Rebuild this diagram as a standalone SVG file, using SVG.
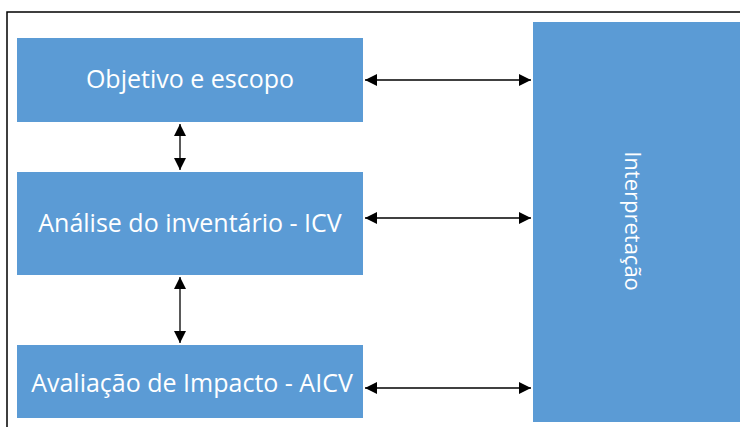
<svg xmlns="http://www.w3.org/2000/svg" width="740" height="427" viewBox="0 0 740 427">
<defs>
<marker id="ah" viewBox="0 0 12 12" refX="12" refY="6" markerWidth="12" markerHeight="12" markerUnits="userSpaceOnUse" orient="auto-start-reverse">
<path d="M0,0 L12,6 L0,12 z" fill="#000"/>
</marker>
<style>
.box{fill:#5B9BD5;}
.lbl{font-family:"Open Sans","Noto Sans",sans-serif;font-size:25px;fill:#fff;text-anchor:middle;dominant-baseline:central;}
.con{stroke:#000;stroke-width:1.3;fill:none;marker-start:url(#ah);marker-end:url(#ah);}
</style>
</defs>
<rect width="740" height="427" fill="#fff"/>
<path d="M7,427 V12 H740" fill="none" stroke="#000" stroke-width="1.5"/>
<g id="objetivo"><rect class="box" x="17" y="38" width="346" height="84"/><text class="lbl" x="190" y="78">Objetivo e escopo</text></g>
<g id="analise"><rect class="box" x="17" y="172" width="346" height="103"/><text class="lbl" x="190" y="222">Análise do inventário - ICV</text></g>
<g id="avaliacao"><rect class="box" x="17" y="345" width="346" height="73"/><text class="lbl" x="192" y="382">Avaliação de Impacto - AICV</text></g>
<g id="interpretacao"><rect class="box" x="533" y="22" width="210" height="400"/><text class="lbl" style="font-size:22px" transform="translate(634,221) rotate(90)">Interpretação</text></g>
<g id="connectors">
<line class="con" x1="365" y1="80" x2="531" y2="80"/>
<line class="con" x1="365" y1="218" x2="531" y2="218"/>
<line class="con" x1="365" y1="388" x2="531" y2="388"/>
<line class="con" x1="180" y1="124" x2="180" y2="170"/>
<line class="con" x1="180" y1="277" x2="180" y2="343"/>
</g>
</svg>
